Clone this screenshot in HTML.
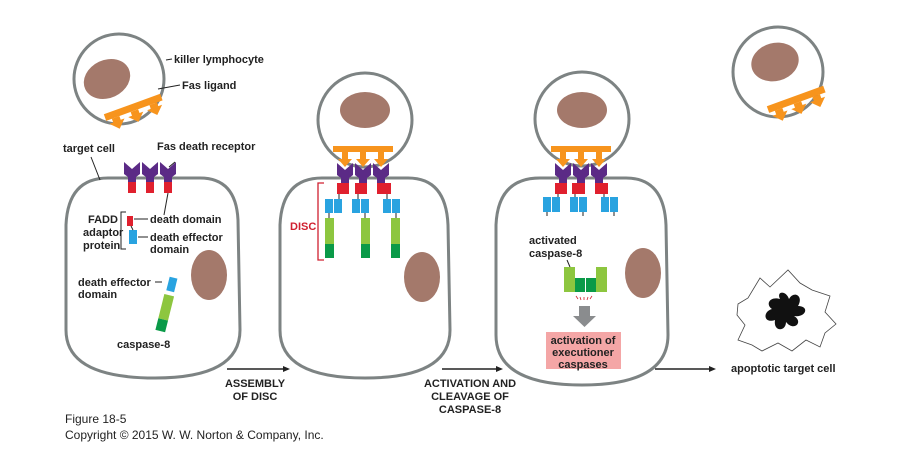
<!DOCTYPE html>
<html><head><meta charset="utf-8"><style>
html,body{margin:0;padding:0;background:#fff}
svg{display:block}
text{font-family:"Liberation Sans",sans-serif;font-weight:bold;font-size:11px;fill:#222}
.n{font-family:"Liberation Sans Narrow","Liberation Sans",sans-serif;font-weight:normal;font-size:12px}
</style></head><body>
<svg width="903" height="451" viewBox="0 0 903 451" xmlns="http://www.w3.org/2000/svg">
<defs>
<g id="rec">
<polygon points="-8,0 0,7 8,0 8,12 4,15 4,20 -4,20 -4,15 -8,12" fill="#5b2a86"/>
<rect x="-4" y="20" width="8" height="11" fill="#e0202e"/>
</g>
<g id="lig">
<rect x="-30" y="0" width="60" height="7" fill="#f7941d"/>
<polygon points="-24,7 -16,7 -16,11 -12,11 -20,19 -28,11 -24,11" fill="#f7941d"/>
<polygon points="-4,7 4,7 4,11 8,11 0,19 -8,11 -4,11" fill="#f7941d"/>
<polygon points="16,7 24,7 24,11 28,11 20,19 12,11 16,11" fill="#f7941d"/>
</g>
<g id="lig2">
<rect x="-30" y="0" width="60" height="6" fill="#f7941d"/>
<polygon points="-21,6 -15,6 -15,13 -11,13 -18,21 -25,13 -21,13" fill="#f7941d"/>
<polygon points="-3,6 3,6 3,13 7,13 0,21 -7,13 -3,13" fill="#f7941d"/>
<polygon points="15,6 21,6 21,13 25,13 18,21 11,13 15,13" fill="#f7941d"/>
</g>
</defs>

<!-- lymphocyte 1 -->
<circle cx="119" cy="79" r="45" fill="#fff" stroke="#7d8383" stroke-width="3"/>
<ellipse cx="107" cy="79" rx="24" ry="19" transform="rotate(-25 107 79)" fill="#a4796b"/>
<g transform="translate(132,104) rotate(-20)"><use href="#lig"/></g>
<line x1="166" y1="60" x2="172" y2="59" stroke="#222"/>
<text x="174" y="63">killer lymphocyte</text>
<line x1="158" y1="89" x2="180" y2="85" stroke="#222"/>
<text x="182" y="89">Fas ligand</text>

<!-- cell 1 -->
<path d="M108,178 L200,178 Q236,178 238,220 L240,330 Q240,378 155,378 Q66,378 66,330 L66,225 Q68,178 108,178 Z" fill="#fff" stroke="#7d8383" stroke-width="3"/>
<g transform="translate(132,162)"><use href="#rec"/></g>
<g transform="translate(150,162)"><use href="#rec"/></g>
<g transform="translate(168,162)"><use href="#rec"/></g>
<text x="63" y="152">target cell</text>
<line x1="91" y1="157" x2="100" y2="180" stroke="#222"/>
<text x="157" y="150">Fas death receptor</text>
<line x1="175" y1="162" x2="169" y2="167" stroke="#222"/>
<line x1="168" y1="193" x2="164" y2="215" stroke="#222"/>
<rect x="127" y="216" width="6" height="10" fill="#e0202e"/>
<rect x="129" y="230" width="8" height="14" fill="#29a3e0"/>
<line x1="131" y1="226" x2="133" y2="230" stroke="#222"/>
<path d="M126,212 L121,212 L121,249 L126,249" fill="none" stroke="#222"/>
<text x="88" y="223">FADD</text>
<text x="83" y="236">adaptor</text>
<text x="83" y="249">protein</text>
<line x1="134" y1="219" x2="148" y2="219" stroke="#222"/>
<text x="150" y="223">death domain</text>
<line x1="138" y1="237" x2="148" y2="237" stroke="#222"/>
<text x="150" y="241">death effector</text>
<text x="150" y="253">domain</text>
<ellipse cx="209" cy="275" rx="18" ry="25" fill="#a4796b"/>
<text x="78" y="286">death effector</text>
<text x="78" y="298">domain</text>
<line x1="155" y1="282" x2="162" y2="282" stroke="#222"/>
<g transform="rotate(14 168 300)">
<rect x="164" y="277" width="8" height="14" fill="#29a3e0"/>
<rect x="163" y="295" width="10" height="25" fill="#8dc63f"/>
<rect x="163" y="320" width="10" height="12" fill="#0a9a48"/>
</g>
<text x="117" y="348">caspase-8</text>

<!-- arrow 1 -->
<line x1="227" y1="369" x2="284" y2="369" stroke="#222" stroke-width="1.5"/>
<polygon points="290,369 283,366 283,372" fill="#222"/>
<text x="255" y="387" text-anchor="middle">ASSEMBLY</text>
<text x="255" y="400" text-anchor="middle">OF DISC</text>

<!-- cell 2 -->
<circle cx="365" cy="120" r="47" fill="#fff" stroke="#7d8383" stroke-width="3"/>
<ellipse cx="365" cy="110" rx="25" ry="18" fill="#a4796b"/>
<path d="M322,178 L408,178 Q446,178 448,225 L450,330 Q450,378 365,378 Q280,378 280,330 L280,225 Q282,178 322,178 Z" fill="#fff" stroke="#7d8383" stroke-width="3"/>
<g transform="translate(345,163)"><use href="#rec"/></g>
<g transform="translate(363,163)"><use href="#rec"/></g>
<g transform="translate(381,163)"><use href="#rec"/></g>
<g transform="translate(363,146)"><use href="#lig2"/></g>
<g fill="#e0202e"><rect x="337" y="183" width="12" height="11"/><rect x="355" y="183" width="12" height="11"/><rect x="379" y="183" width="12" height="11"/></g>
<g fill="#29a3e0"><rect x="325" y="199" width="8" height="14"/><rect x="334" y="199" width="8" height="14"/><rect x="352" y="199" width="8" height="14"/><rect x="361" y="199" width="8" height="14"/><rect x="383" y="199" width="8" height="14"/><rect x="392" y="199" width="8" height="14"/></g>
<g fill="#8dc63f"><rect x="325" y="218" width="9" height="26"/><rect x="361" y="218" width="9" height="26"/><rect x="391" y="218" width="9" height="26"/></g>
<g fill="#0a9a48"><rect x="325" y="244" width="9" height="14"/><rect x="361" y="244" width="9" height="14"/><rect x="391" y="244" width="9" height="14"/></g>
<g stroke="#222"><line x1="339" y1="194" x2="339" y2="199"/><line x1="358" y1="194" x2="358" y2="199"/><line x1="387" y1="194" x2="387" y2="199"/><line x1="329" y1="213" x2="329" y2="218"/><line x1="365" y1="213" x2="365" y2="218"/><line x1="396" y1="213" x2="396" y2="218"/></g>
<path d="M324,183 L318,183 L318,260 L324,260" fill="none" stroke="#d02030" stroke-width="1.3"/>
<text x="290" y="230" style="fill:#d02030">DISC</text>
<ellipse cx="422" cy="277" rx="18" ry="25" fill="#a4796b"/>

<!-- arrow 2 -->
<line x1="442" y1="369" x2="497" y2="369" stroke="#222" stroke-width="1.5"/>
<polygon points="503,369 496,366 496,372" fill="#222"/>
<text x="470" y="387" text-anchor="middle">ACTIVATION AND</text>
<text x="470" y="400" text-anchor="middle">CLEAVAGE OF</text>
<text x="470" y="413" text-anchor="middle">CASPASE-8</text>

<!-- cell 3 -->
<circle cx="582" cy="119" r="47" fill="#fff" stroke="#7d8383" stroke-width="3"/>
<ellipse cx="582" cy="110" rx="25" ry="18" fill="#a4796b"/>
<path d="M540,178 L626,178 Q664,178 666,225 L668,335 Q668,385 582,385 Q496,385 496,335 L496,225 Q498,178 540,178 Z" fill="#fff" stroke="#7d8383" stroke-width="3"/>
<g transform="translate(563,163)"><use href="#rec"/></g>
<g transform="translate(581,163)"><use href="#rec"/></g>
<g transform="translate(599,163)"><use href="#rec"/></g>
<g transform="translate(581,146)"><use href="#lig2"/></g>
<g fill="#e0202e"><rect x="555" y="183" width="12" height="11"/><rect x="572" y="183" width="12" height="11"/><rect x="596" y="183" width="12" height="11"/></g>
<g fill="#29a3e0"><rect x="543" y="197" width="8" height="15"/><rect x="552" y="197" width="8" height="15"/><rect x="570" y="197" width="8" height="15"/><rect x="579" y="197" width="8" height="15"/><rect x="601" y="197" width="8" height="15"/><rect x="610" y="197" width="8" height="15"/></g>
<g stroke="#222"><line x1="558" y1="194" x2="558" y2="197"/><line x1="575" y1="194" x2="575" y2="197"/><line x1="604" y1="194" x2="604" y2="197"/><line x1="547" y1="212" x2="547" y2="216"/><line x1="583" y1="212" x2="583" y2="216"/><line x1="614" y1="212" x2="614" y2="216"/></g>
<text x="529" y="244">activated</text>
<text x="529" y="257">caspase-8</text>
<line x1="567" y1="260" x2="570" y2="267" stroke="#222"/>
<rect x="564" y="267" width="11" height="25" fill="#8dc63f"/>
<rect x="596" y="267" width="11" height="25" fill="#8dc63f"/>
<rect x="575" y="278" width="10" height="14" fill="#0a9a48"/>
<rect x="586" y="278" width="10" height="14" fill="#0a9a48"/>
<g stroke="#d02030" stroke-width="0.8"><line x1="576" y1="296" x2="578" y2="299"/><line x1="580" y1="297" x2="581" y2="300"/><line x1="584" y1="297" x2="584" y2="300"/><line x1="588" y1="297" x2="587" y2="300"/><line x1="592" y1="296" x2="590" y2="299"/></g>
<polygon points="579,306 590,306 590,316 596,316 584.5,327 573,316 579,316" fill="#8a8c8e"/>
<rect x="546" y="332" width="75" height="37" fill="#f4a6a6"/>
<text x="583" y="344" text-anchor="middle">activation of</text>
<text x="583" y="356" text-anchor="middle">executioner</text>
<text x="583" y="368" text-anchor="middle">caspases</text>
<ellipse cx="643" cy="273" rx="18" ry="25" fill="#a4796b"/>

<!-- arrow 3 -->
<line x1="655" y1="369" x2="709" y2="369" stroke="#222" stroke-width="1.5"/>
<polygon points="716,369 709,366 709,372" fill="#222"/>
<text x="731" y="372">apoptotic target cell</text>

<!-- lymphocyte 4 -->
<circle cx="778" cy="72" r="45" fill="#fff" stroke="#7d8383" stroke-width="3"/>
<ellipse cx="775" cy="62" rx="24" ry="19" transform="rotate(-15 775 62)" fill="#a4796b"/>
<g transform="translate(795,96) rotate(-20)"><use href="#lig"/></g>

<!-- apoptotic cell -->
<path d="M738,304 L748,298 L760,278 L770,287 L788,270 L800,283 L812,290 L830,296 L825,312 L836,324 L825,333 L820,347 L806,340 L792,351 L778,343 L762,351 L752,345 L738,340 L745,325 L737,315 Z" fill="#fff" stroke="#444" stroke-width="0.8"/>
<path d="M780,299 C770,296 765,304 772,309 C762,312 764,324 775,320 C773,332 786,332 786,322 C794,332 804,322 794,316 C806,318 810,306 798,306 C804,296 794,290 789,299 C786,290 776,291 780,299 Z" fill="#111"/>

<text class="n" x="65" y="423">Figure 18-5</text>
<text class="n" x="65" y="439">Copyright © 2015 W. W. Norton &amp; Company, Inc.</text>
</svg>
</body></html>
